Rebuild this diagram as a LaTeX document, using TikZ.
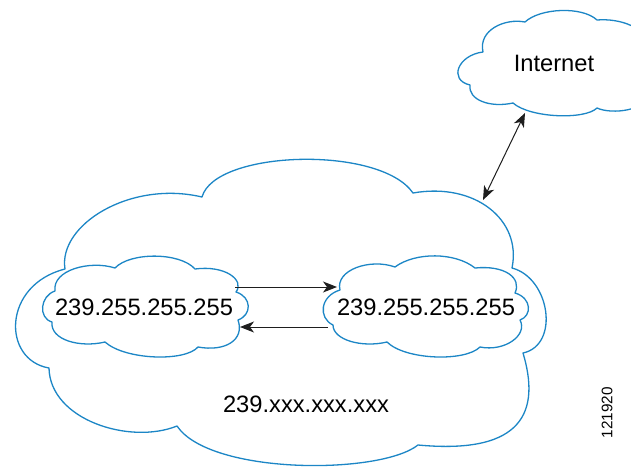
\documentclass[tikz,border=0pt]{standalone}
\usepackage{fontspec}
\setmainfont{Liberation Sans}
\usetikzlibrary{arrows.meta}
\definecolor{cloudblue}{RGB}{28,134,198}
\definecolor{arrowgray}{RGB}{30,30,30}
\begin{document}
\begin{tikzpicture}[x=1pt,y=-1pt,
  cloud/.style={draw=cloudblue, line width=1.3pt, line join=round},
  lbl/.style={font=\fontsize{23.7}{28}\selectfont, inner sep=0pt},
  conn/.style={draw=arrowgray, line width=1pt},
  tipend/.style={-{Stealth[length=14pt,width=11pt,inset=4pt]}},
  tipboth/.style={{Stealth[length=14pt,width=11pt,inset=4pt]}-{Stealth[length=14pt,width=11pt,inset=4pt]}}]
\useasboundingbox (0,0) rectangle (631,466);
\fill[white] (0,0) rectangle (631,466);
\clip (0,0) rectangle (631,466);
% big cloud
\path[cloud] (65,269)
  .. controls (58,225) and (130,180) .. (202,197)
  .. controls (215,150) and (380,145) .. (413,193)
  .. controls (475,182) and (522,220) .. (512,268)
  .. controls (550,278) and (560,345) .. (523,353)
  .. controls (540,410) and (525,455) .. (418,445)
  .. controls (380,475) and (210,475) .. (177,426)
  .. controls (130,445) and (50,420) .. (49,368)
  .. controls (2,360) and (2,285) .. cycle;
% left small cloud
\path[cloud, fill=white] (55,291)
  .. controls (52,270) and (90,260) .. (115,268)
  .. controls (130,252) and (180,252) .. (195,269)
  .. controls (225,265) and (245,280) .. (236,292)
  .. controls (252,297) and (252,315) .. (238,320)
  .. controls (245,340) and (225,352) .. (198,347)
  .. controls (185,362) and (125,360) .. (105,342)
  .. controls (80,348) and (50,340) .. (52,322)
  .. controls (38,318) and (40,296) .. cycle;
% right small cloud
\path[cloud, fill=white] (340,290)
  .. controls (335,270) and (370,258) .. (395,267)
  .. controls (415,252) and (455,252) .. (475,268)
  .. controls (505,265) and (522,278) .. (515,293)
  .. controls (532,298) and (532,316) .. (520,320)
  .. controls (528,335) and (505,352) .. (480,347)
  .. controls (465,362) and (405,360) .. (387,342)
  .. controls (362,348) and (333,340) .. (333,325)
  .. controls (318,318) and (320,296) .. cycle;
% internet cloud
\path[cloud, fill=white] (483,52)
  .. controls (478,30) and (505,18) .. (525,22)
  .. controls (540,8) and (582,6) .. (597,20)
  .. controls (620,18) and (648,28) .. (645,45)
  .. controls (665,50) and (665,90) .. (645,95)
  .. controls (648,110) and (612,115) .. (597,108)
  .. controls (585,120) and (530,118) .. (513,103)
  .. controls (490,108) and (468,100) .. (470,85)
  .. controls (448,80) and (458,55) .. cycle;
% labels
\node[lbl] (lt) at (144,307.5) {239.255.255.255};
\node[lbl] (rt) at (426,307.5) {239.255.255.255};
\node[lbl] (bt) at (306,404.5) {239.xxx.xxx.xxx};
\node[lbl] (it) at (554,63.5) {Internet};
\node[font=\fontsize{15.3}{18}\selectfont, inner sep=0pt, rotate=90] (code) at (607,412.5) {121920};
% connectors
\coordinate (a1s) at (235,287);
\coordinate (a1e) at (337,287);
\coordinate (a2s) at (328,327);
\coordinate (a2e) at (240,327);
\coordinate (inet) at (525,113);
\coordinate (big) at (483,200);
\draw[conn,tipend] (a1s) -- (a1e);
\draw[conn,tipend] (a2s) -- (a2e);
\draw[conn,tipboth] (big) -- (inet);
\end{tikzpicture}
\end{document}
